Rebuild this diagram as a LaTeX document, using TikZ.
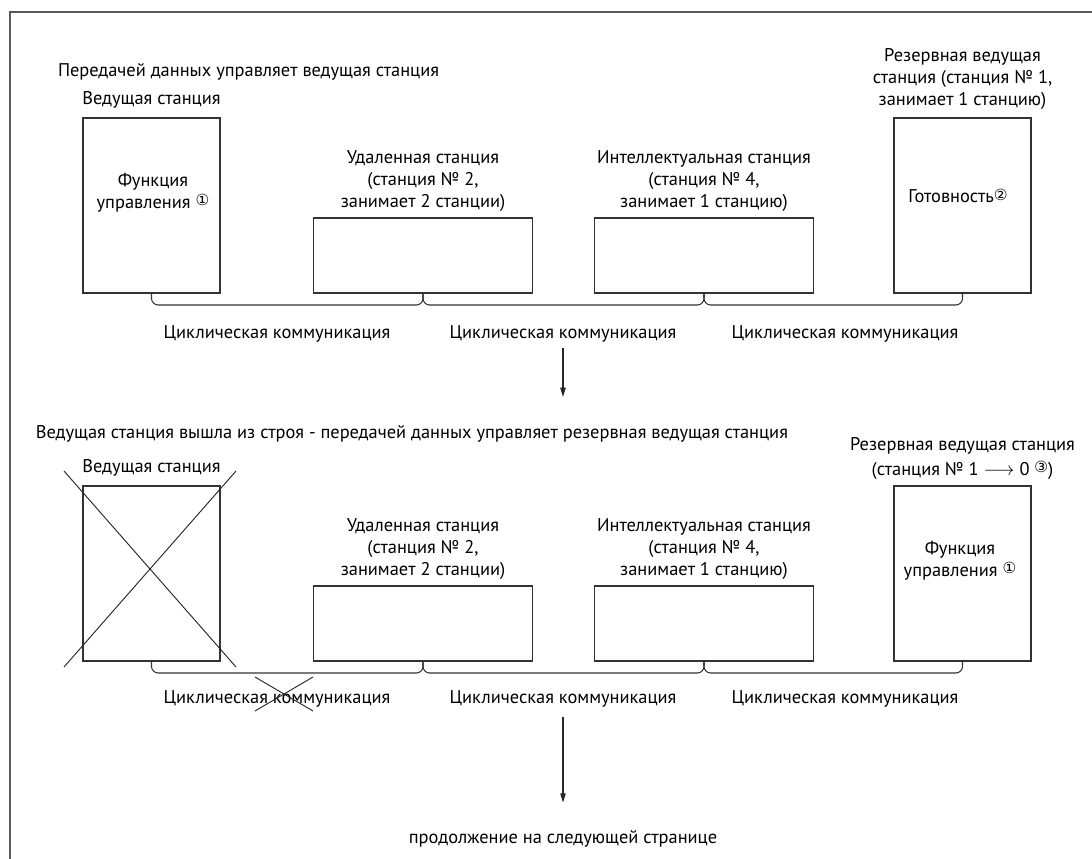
\documentclass[tikz,border=0pt]{standalone}
\usepackage{fontspec}
\setmainfont{PT Sans}
\newfontfamily\circfont{DejaVu Sans}
\usetikzlibrary{positioning,arrows.meta}
\newcommand{\cnum}[1]{\raisebox{0.3ex}{\circfont\fontsize{11.5}{11.5}\selectfont #1}}
\begin{document}
\begin{tikzpicture}[x=0.75pt,y=-0.75pt,
  every node/.style={font=\fontsize{13.8}{16.5}\selectfont, inner sep=0pt, outer sep=0pt, align=center, text=black},
  tall/.style={draw=black!80, line width=0.8pt, minimum width=102.75pt, minimum height=131.25pt},
  wide/.style={draw=black!80, line width=0.8pt, minimum width=164pt, minimum height=56.25pt},
  bus/.style={draw=black!80, line width=0.8pt, rounded corners=5pt},
  arrow/.style={-{Triangle[length=7pt,width=4pt]}, line width=1pt, black!85},
  cross/.style={black!85, line width=0.7pt}
]
\useasboundingbox (0,0) rectangle (1092,859);
\draw[black!65, line width=1pt] (10,859) -- (10,12) -- (1092,12);

\node[anchor=west] (title1) at (58,72) {Передачей данных управляет ведущая станция};
\node[tall] (master1) at (151.5,205.5) {};
\node[wide] (remote1) at (423,255.5) {};
\node[wide] (intel1) at (704,255.5) {};
\node[tall] (backup1) at (962.5,205.5) {};
\node[above=7.5pt of master1] (mlabel1) {Ведущая станция};
\node[above=4.5pt of remote1] (rlabel1) {Удаленная станция\\(станция № 2,\\занимает 2 станции)};
\node[above=4.5pt of intel1] (ilabel1) {Интеллектуальная станция\\(станция № 4,\\занимает 1 станцию)};
\node[above=6pt of backup1] (blabel1) {Резервная ведущая\\станция (станция № 1,\\занимает 1 станцию)};
\node (mfunc1) at (153,193) {Функция\\управления \cnum{①}};
\node (ready1) at (958,196) {Готовность\cnum{②}};
\draw[bus] (master1.south) -- ++(0,12) -| (remote1.south);
\draw[bus] (remote1.south) -- ++(0,12) -| (intel1.south);
\draw[bus] (intel1.south) -- ++(0,12) -| (backup1.south);
\node (cyc1) at (277,334) {Циклическая коммуникация};
\node (cyc2) at (563,334) {Циклическая коммуникация};
\node (cyc3) at (845,334) {Циклическая коммуникация};
\coordinate (down1) at (563,397);
\draw[arrow] (cyc2.south |- 0,348) -- (down1);

\node[anchor=west] (title2) at (36,434) {Ведущая станция вышла из строя - передачей данных управляет резервная ведущая станция};
\node[tall] (master2) at (151.5,573.5) {};
\node[wide] (remote2) at (423,623.5) {};
\node[wide] (intel2) at (704,623.5) {};
\node[tall] (backup2) at (962.5,573.5) {};
\node[above=7.5pt of master2] (mlabel2) {Ведущая станция};
\node[above=4.5pt of remote2] (rlabel2) {Удаленная станция\\(станция № 2,\\занимает 2 станции)};
\node[above=4.5pt of intel2] (ilabel2) {Интеллектуальная станция\\(станция № 4,\\занимает 1 станцию)};
\node[above=5pt of backup2] (blabel2) {Резервная ведущая станция\\[2pt](станция № 1 $\longrightarrow$ 0 \cnum{③})};
\node (mfunc2) at (960,561) {Функция\\управления \cnum{①}};
\draw[bus] (master2.south) -- ++(0,12) -| (remote2.south);
\draw[bus] (remote2.south) -- ++(0,12) -| (intel2.south);
\draw[bus] (intel2.south) -- ++(0,12) -| (backup2.south);
\node (cyc4) at (277,699) {Циклическая коммуникация};
\node (cyc5) at (563,699) {Циклическая коммуникация};
\node (cyc6) at (845,699) {Циклическая коммуникация};
\draw[cross] (64,471) -- (236,667);
\draw[cross] (236,471) -- (64,667);
\draw[cross] (255,677) -- (313,711);
\draw[cross] (313,677) -- (255,711);

\node (next) at (563,839) {продолжение на следующей странице};
\draw[arrow] (cyc5.south |- 0,717) -- ([yshift=21pt]next.north);
\end{tikzpicture}
\end{document}
